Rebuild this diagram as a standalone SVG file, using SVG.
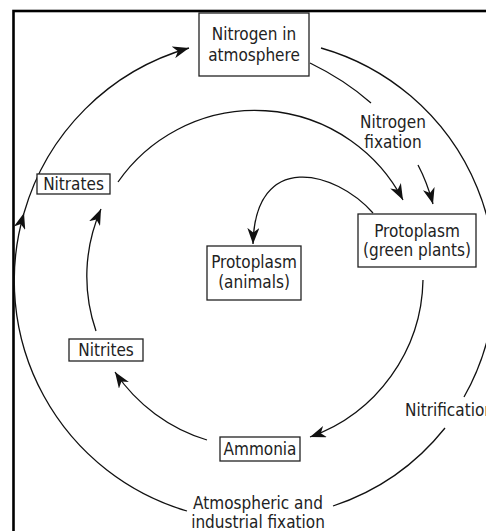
<svg xmlns="http://www.w3.org/2000/svg" width="486" height="531" viewBox="0 0 486 531">
<defs>
<marker id="ah" viewBox="0 0 16 12" markerWidth="16" markerHeight="12" refX="16" refY="6" orient="auto" markerUnits="userSpaceOnUse">
<path d="M0,0 L16,6 L0,12 L4.5,6 z" fill="#111"/>
</marker>
<style>
.box{fill:#fff;stroke:#222;stroke-width:1.3}
.t{font-family:"DejaVu Sans Condensed","DejaVu Sans",sans-serif;font-size:17px;fill:#222;text-anchor:middle}
.c{fill:none;stroke:#111;stroke-width:1.3}
.ar{marker-end:url(#ah)}
</style>
</defs>
<rect x="0" y="0" width="486" height="531" fill="#fff"/>
<rect x="13.5" y="11" width="520" height="560" fill="none" stroke="#000" stroke-width="2.6"/>
<g id="connectors">
<path class="c ar" d="M187,511 A240,240 0 0 1 24,213"/>
<path class="c ar" d="M24,213 A240,240 0 0 1 189,48"/>
<path class="c" d="M321,48 A240,240 0 0 1 464,397"/>
<path class="c" d="M445,428 A240,240 0 0 1 333,506"/>
<path class="c ar" d="M118,182 A167,167 0 0 1 403,200"/>
<path class="c ar" d="M96,331 A167,167 0 0 1 101,209"/>
<path class="c ar" d="M207,440 A170,170 0 0 1 115,372"/>
<path class="c ar" d="M423,280 A170,170 0 0 1 310,437"/>
<path class="c" d="M310,63 Q345,80 371,103"/>
<path class="c ar" d="M418,165 Q427,182 433,204"/>
<path class="c ar" d="M373,213 C335,170 255,150 253,244"/>
</g>
<g id="n-nitrogen">
<rect class="box" x="199" y="13" width="110" height="63"/>
<text class="t" x="254" y="40">Nitrogen in</text>
<text class="t" x="254" y="61">atmosphere</text>
</g>
<g id="n-plants">
<rect class="box" x="358" y="214" width="118" height="53"/>
<text class="t" x="417" y="237">Protoplasm</text>
<text class="t" x="417" y="256">(green plants)</text>
</g>
<g id="n-animals">
<rect class="box" x="207" y="246" width="94" height="54"/>
<text class="t" x="254" y="268">Protoplasm</text>
<text class="t" x="254" y="288">(animals)</text>
</g>
<g id="n-nitrates">
<rect class="box" x="37" y="174" width="73" height="20"/>
<text class="t" x="73.5" y="190">Nitrates</text>
</g>
<g id="n-nitrites">
<rect class="box" x="69" y="339" width="74" height="22"/>
<text class="t" x="106" y="356">Nitrites</text>
</g>
<g id="n-ammonia">
<rect class="box" x="220" y="437" width="80" height="24"/>
<text class="t" x="260" y="455">Ammonia</text>
</g>
<g id="labels">
<text class="t" x="393" y="128">Nitrogen</text>
<text class="t" x="393" y="148">fixation</text>
<text class="t" x="405" y="416" style="text-anchor:start">Nitrification</text>
<text class="t" x="258" y="509">Atmospheric and</text>
<text class="t" x="258" y="528">industrial fixation</text>
</g>
</svg>
